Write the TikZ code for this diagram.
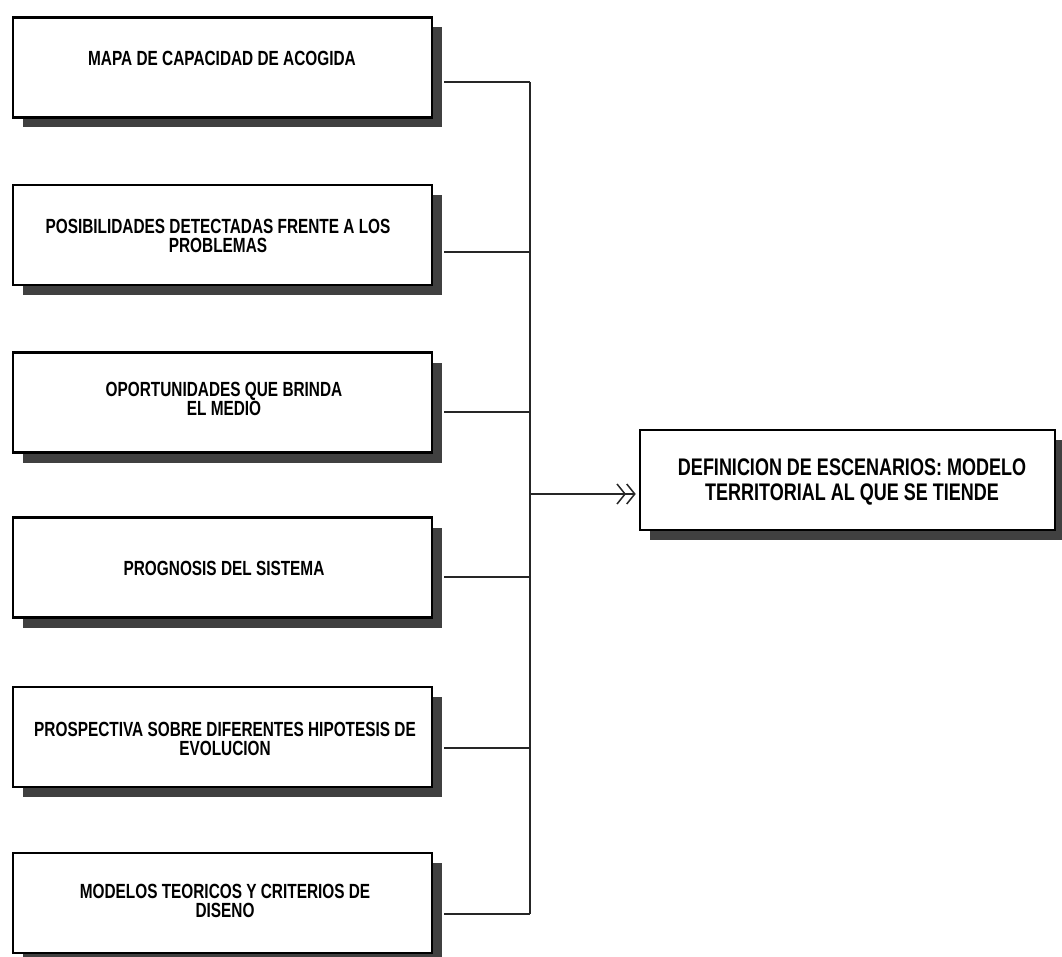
\documentclass[tikz,border=0pt]{standalone}
\usepackage{fontspec}
\setmainfont[FakeStretch=0.75]{Liberation Sans}
\usetikzlibrary{calc,shadows,arrows.meta}
\begin{document}
\begin{tikzpicture}[x=1pt,y=-1pt,
  box/.style={draw=black, line width=2.6pt, fill=white, minimum width=419pt,
    minimum height=100pt, inner sep=0pt,
    drop shadow={shadow xshift=10pt, shadow yshift=-10pt, fill=black!75, opacity=1}},
  bigbox/.style={box, minimum width=415pt},
  lbl/.style={font=\bfseries\fontsize{20.5}{19.5}\selectfont, align=center, inner sep=0pt},
  biglbl/.style={font=\bfseries\fontsize{24}{25.5}\selectfont, align=center, inner sep=0pt},
  conn/.style={line width=1.5pt, black!85},
  barb/.style={-{Straight Barb[length=8pt,width=20pt,line width=1.5pt]Straight Barb[length=8pt,width=20pt,line width=1.5pt]}},
]
\useasboundingbox (0,0) rectangle (1062,957);
\coordinate (spine) at (530,0);

\node[box] (b1) at (222.5,67.5) {};
\node[box] (b2) at (222.5,235) {};
\node[box] (b3) at (222.5,402.5) {};
\node[box] (b4) at (222.5,567.5) {};
\node[box] (b5) at (222.5,737) {};
\node[box] (b6) at (222.5,903) {};
\node[bigbox] (r) at (847.5,480) {};

\node[lbl] (t1) at (222,58) {MAPA DE CAPACIDAD DE ACOGIDA};
\node[lbl] (t2) at (218,236) {POSIBILIDADES DETECTADAS FRENTE A LOS\\PROBLEMAS};
\node[lbl] (t3) at (224,399) {OPORTUNIDADES QUE BRINDA\\EL MEDIO};
\node[lbl] (t4) at (224,568) {PROGNOSIS DEL SISTEMA};
\node[lbl] (t5) at (225,739) {PROSPECTIVA SOBRE DIFERENTES HIPOTESIS DE\\EVOLUCION};
\node[lbl] (t6) at (225,901) {MODELOS TEORICOS Y CRITERIOS DE\\DISENO};
\node[biglbl] (tr) at (852,482) {DEFINICION DE ESCENARIOS: MODELO\\TERRITORIAL AL QUE SE TIENDE};

\path ($(b1.east)+(11,14.5)$) coordinate (c1);
\path ($(b2.east)+(11,17)$) coordinate (c2);
\path ($(b3.east)+(11,9.5)$) coordinate (c3);
\path ($(b4.east)+(11,9.5)$) coordinate (c4);
\path ($(b5.east)+(11,11)$) coordinate (c5);
\path ($(b6.east)+(11,11)$) coordinate (c6);
\path ($(r.west)+(-3,14)$) coordinate (rin);

\foreach \c in {c1,c2,c3,c4,c5,c6}{
  \draw[conn] (\c) -- (\c -| spine);
}
\draw[conn] (c1 -| spine) -- (c6 -| spine);
\draw[conn,barb] (rin -| spine) -- (rin);
\end{tikzpicture}
\end{document}
